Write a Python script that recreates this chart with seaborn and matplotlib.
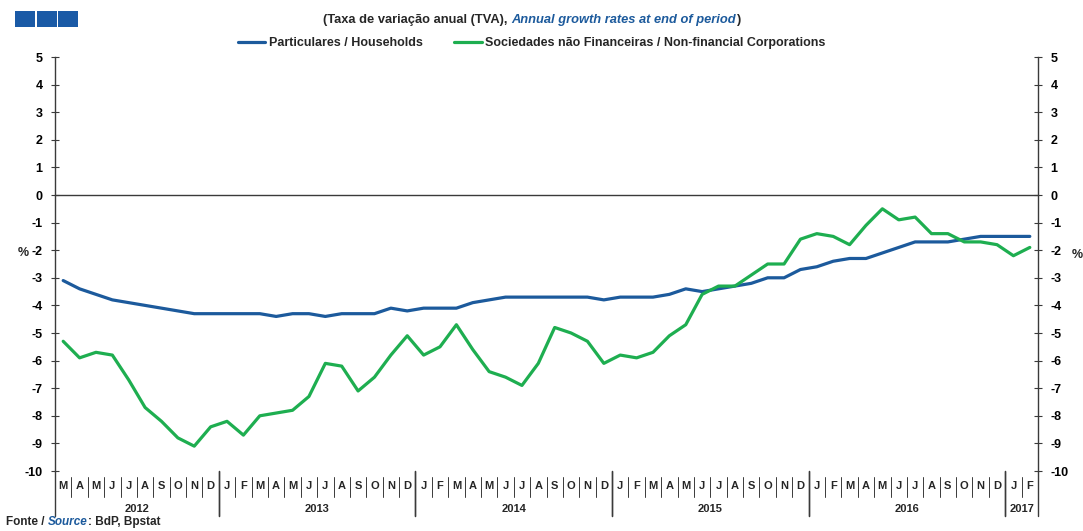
import numpy as np
import pandas as pd
import matplotlib.pyplot as plt
import seaborn as sns
from matplotlib.patches import Rectangle

# Annual growth rates of loans (%), March 2012 - February 2017
month_labels = ['M', 'A', 'M', 'J', 'J', 'A', 'S', 'O', 'N', 'D',
                'J', 'F', 'M', 'A', 'M', 'J', 'J', 'A', 'S', 'O', 'N', 'D',
                'J', 'F', 'M', 'A', 'M', 'J', 'J', 'A', 'S', 'O', 'N', 'D',
                'J', 'F', 'M', 'A', 'M', 'J', 'J', 'A', 'S', 'O', 'N', 'D',
                'J', 'F', 'M', 'A', 'M', 'J', 'J', 'A', 'S', 'O', 'N', 'D',
                'J', 'F']
years = ['2012', '2013', '2014', '2015', '2016', '2017']
months_per_year = [10, 12, 12, 12, 12, 2]

households = [-3.1, -3.4, -3.6, -3.8, -3.9, -4.0, -4.1, -4.2, -4.3, -4.3,
              -4.3, -4.3, -4.3, -4.4, -4.3, -4.3, -4.4, -4.3, -4.3, -4.3, -4.1, -4.2,
              -4.1, -4.1, -4.1, -3.9, -3.8, -3.7, -3.7, -3.7, -3.7, -3.7, -3.7, -3.8,
              -3.7, -3.7, -3.7, -3.6, -3.4, -3.5, -3.4, -3.3, -3.2, -3.0, -3.0, -2.7,
              -2.6, -2.4, -2.3, -2.3, -2.1, -1.9, -1.7, -1.7, -1.7, -1.6, -1.5, -1.5,
              -1.5, -1.5]
corporations = [-5.3, -5.9, -5.7, -5.8, -6.7, -7.7, -8.2, -8.8, -9.1, -8.4,
                -8.2, -8.7, -8.0, -7.9, -7.8, -7.3, -6.1, -6.2, -7.1, -6.6, -5.8, -5.1,
                -5.8, -5.5, -4.7, -5.6, -6.4, -6.6, -6.9, -6.1, -4.8, -5.0, -5.3, -6.1,
                -5.8, -5.9, -5.7, -5.1, -4.7, -3.6, -3.3, -3.3, -2.9, -2.5, -2.5, -1.6,
                -1.4, -1.5, -1.8, -1.1, -0.5, -0.9, -0.8, -1.4, -1.4, -1.7, -1.7, -1.8,
                -2.2, -1.9]

series_names = ['Particulares / Households',
                'Sociedades não Financeiras / Non-financial Corporations']
blue = '#1c5a9c'
green = '#1eae50'
axis_color = '#3a3a3a'

n = len(month_labels)
df = pd.DataFrame({
    'month': list(range(n)) * 2,
    'value': households + corporations,
    'series': [series_names[0]] * n + [series_names[1]] * n,
})

sns.set_style('white')
plt.rcParams['font.family'] = ['Liberation Sans', 'DejaVu Sans']
plt.rcParams['font.weight'] = 'bold'
plt.rcParams['axes.unicode_minus'] = False

W, H = 1083, 531
fig = plt.figure(figsize=(W / 100, H / 100), dpi=100)
ax = fig.add_axes([55 / W, 60 / H, 983 / W, 414 / H])

sns.lineplot(data=df, x='month', y='value', hue='series',
             palette=[blue, green], linewidth=2.3, ax=ax)

ax.set_xlim(-0.5, n - 0.5)
ax.set_ylim(-10, 5)
ax.set_yticks(range(-10, 6))
ax.set_xlabel('')
ax.set_ylabel('')

# category axis crosses at zero, with small ticks between months
ax.spines['bottom'].set_position(('data', 0))
ax.spines['top'].set_visible(False)
for side in ['left', 'right', 'bottom']:
    ax.spines[side].set_color(axis_color)
    ax.spines[side].set_linewidth(1.0)
ax.set_xticks(np.arange(-0.5, n, 1))
ax.tick_params(axis='x', direction='in', length=3, width=0.8,
               colors=axis_color, labelbottom=False)
ax.tick_params(axis='y', direction='inout', length=6, width=0.8, colors=axis_color,
               left=True, right=True, labelleft=True, labelright=True,
               labelsize=9, labelcolor='black', pad=6)

# month letters and year labels under the plot
tr = ax.get_xaxis_transform()
for i, m in enumerate(month_labels):
    ax.text(i, -0.037, m, transform=tr, ha='center', va='center',
            fontsize=8, clip_on=False)
    if i < n - 1:
        ax.plot([i + 0.5, i + 0.5], [-0.014, -0.062], transform=tr,
                color=axis_color, lw=0.7, clip_on=False)

start = 0
for y, k in zip(years, months_per_year):
    ax.text(start + (k - 1) / 2, -0.091, y, transform=tr, ha='center',
            va='center', fontsize=8, clip_on=False)
    for b in (start - 0.5, start + k - 0.5):
        ax.plot([b, b], [0, -0.108], transform=tr, color=axis_color,
                lw=1.0, clip_on=False)
    start += k

# legend
handles, labels = ax.get_legend_handles_labels()
ax.legend(handles, labels, loc='center', bbox_to_anchor=(0.491, 1 - 43 / H),
          bbox_transform=fig.transFigure, ncol=2, frameon=False, fontsize=9,
          handlelength=2.2, handletextpad=0.3, columnspacing=2.5)

# title
t1 = fig.text(323 / W, 1 - 20 / H, '(Taxa de variação anual (TVA), ',
              fontsize=9.3, va='center')
t2 = ax.annotate('Annual growth rates at end of period', xy=(1, 0), xycoords=t1,
                 va='bottom', ha='left', fontsize=9.3, style='italic', color=blue,
                 annotation_clip=False)
ax.annotate(')', xy=(1, 0), xycoords=t2, va='bottom', ha='left', fontsize=9.3,
            annotation_clip=False)

# source
s1 = fig.text(6 / W, 1 - 522 / H, 'Fonte / ', fontsize=8.5, va='center')
s2 = ax.annotate('Source', xy=(1, 0), xycoords=s1, va='bottom', ha='left',
                 fontsize=8.5, style='italic', color=blue, annotation_clip=False)
ax.annotate(': BdP, Bpstat', xy=(1, 0), xycoords=s2, va='bottom', ha='left',
            fontsize=8.5, annotation_clip=False)

# % unit on both sides
fig.text(23 / W, 1 - 253 / H, '%', fontsize=9, ha='center', va='center')
fig.text(1077 / W, 1 - 255 / H, '%', fontsize=9, ha='center', va='center')

# logo squares
for x0 in (15, 37, 58):
    fig.add_artist(Rectangle((x0 / W, 1 - 27 / H), 20 / W, 16 / H,
                             transform=fig.transFigure, color='#1a5aa6', lw=0))

fig.savefig('out.png', dpi=100)
